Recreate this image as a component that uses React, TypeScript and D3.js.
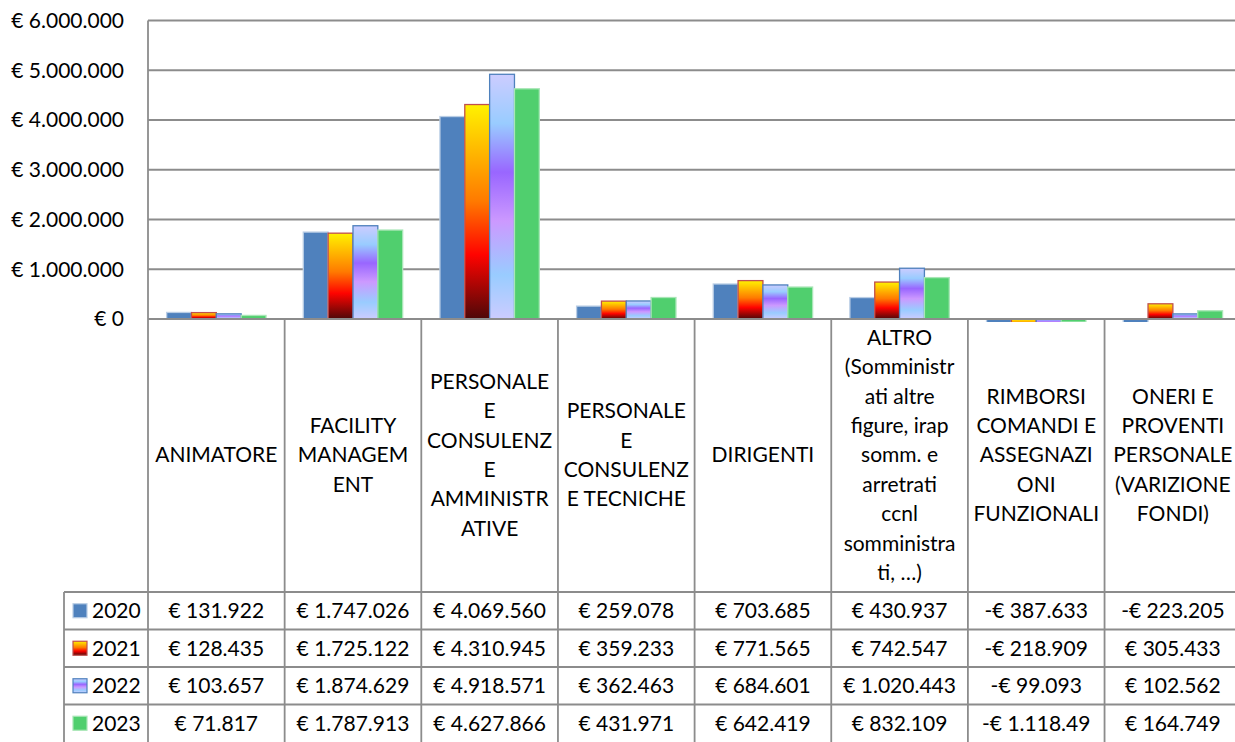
import React, { useEffect } from 'react';
import * as d3 from 'd3';

// Category labels, already broken into lines as in the data table header
const categories: string[][] = [
  ['ANIMATORE'],
  ['FACILITY', 'MANAGEM', 'ENT'],
  ['PERSONALE', 'E', 'CONSULENZ', 'E', 'AMMINISTR', 'ATIVE'],
  ['PERSONALE', 'E', 'CONSULENZ', 'E TECNICHE'],
  ['DIRIGENTI'],
  ['ALTRO', '(Somministr', 'ati altre', 'figure, irap', 'somm. e', 'arretrati', 'ccnl', 'somministra', 'ti,  …)'],
  ['RIMBORSI', 'COMANDI E', 'ASSEGNAZI', 'ONI', 'FUNZIONALI'],
  ['ONERI E', 'PROVENTI', 'PERSONALE', '(VARIZIONE', 'FONDI)'],
];

const years = ['2020', '2021', '2022', '2023'];

const values2020 = [131922, 1747026, 4069560, 259078, 703685, 430937, -387633, -223205];
const values2021 = [128435, 1725122, 4310945, 359233, 771565, 742547, -218909, 305433];
const values2022 = [103657, 1874629, 4918571, 362463, 684601, 1020443, -99093, 102562];
const values2023 = [71817, 1787913, 4627866, 431971, 642419, 832109, -1118.49, 164749];

const yTicks = [0, 1000000, 2000000, 3000000, 4000000, 5000000, 6000000];

const series = [values2020, values2021, values2022, values2023];

const FONT = 'Lato, "Open Sans", sans-serif';
const FS = 21;
const GRID = '#8c8c8c';

const W = 1235;
const H = 742;
const plotLeft = 148;
const colW = 136.65;
const plotTop = 20.5;
const zeroY = 319;
const tableTop = 592;
const rowH = 37.5;
const legendLeft = 64;

// "€ 1.234.567" style, with "." grouping
const fmt = (v: number) => {
  const sign = v < 0 ? '-' : '';
  const a = Math.abs(v);
  const whole = Math.floor(a);
  const frac = Math.round((a - whole) * 100);
  let s = whole.toString().replace(/\B(?=(\d{3})+(?!\d))/g, '.');
  if (frac > 0) s += '.' + String(frac).padStart(2, '0');
  return `${sign}€ ${s}`;
};

const fills = ['#4f81bd', 'url(#fire)', 'url(#lav)', '#50cf6e'];
const strokes = ['#b9cde5', '#c0504d', '#4f81bd', '#a8e6b6'];

export default function App() {
  useEffect(() => {
    document.body.style.margin = '0';
  }, []);

  const idx = categories.map((_, i) => String(i));
  const x = d3
    .scaleBand()
    .domain(idx)
    .range([plotLeft, plotLeft + colW * categories.length])
    .padding(0);
  const xs = d3.scaleBand().domain(years).range([0, x.bandwidth()]).paddingInner(0).paddingOuter(0.75);
  const y = d3.scaleLinear().domain([0, 6000000]).range([zeroY, plotTop]);

  const tableBottom = tableTop + rowH * years.length;
  const right = plotLeft + colW * categories.length;
  const headerMid = 455;
  const lineH = 29.4;

  return (
    <svg width={W} height={H} style={{ display: 'block', fontFamily: FONT }}>
      <defs>
        <linearGradient id="fire" x1="0" y1="0" x2="0" y2="1">
          <stop offset="0" stopColor="#fff200" />
          <stop offset="0.45" stopColor="#ff7a00" />
          <stop offset="0.7" stopColor="#ff0300" />
          <stop offset="1" stopColor="#4d0808" />
        </linearGradient>
        <linearGradient id="lav" x1="0" y1="0" x2="0" y2="1">
          <stop offset="0" stopColor="#ccccff" />
          <stop offset="0.2" stopColor="#99ccff" />
          <stop offset="0.4" stopColor="#9966ff" />
          <stop offset="0.6" stopColor="#cc99ff" />
          <stop offset="0.82" stopColor="#99ccff" />
          <stop offset="1" stopColor="#ccccff" />
        </linearGradient>
        {/* axis minimum is 0: bars below it only show as a small clipped stub */}
        <clipPath id="plotClip">
          <rect x={plotLeft} y={0} width={W} height={zeroY + 3} />
        </clipPath>
      </defs>
      <rect width={W} height={H} fill="#fff" />

      {/* gridlines + y labels */}
      {yTicks.map((t) => (
        <g key={t}>
          <line x1={plotLeft} x2={W} y1={y(t)} y2={y(t)} stroke={GRID} strokeWidth={1.8} />
          <text x={124} y={y(t)} dy="0.35em" textAnchor="end" fontSize={FS} fill="#000">
            {fmt(t)}
          </text>
        </g>
      ))}

      {/* bars */}
      <g clipPath="url(#plotClip)">
        {series.map((vals, si) =>
          vals.map((v, ci) => {
            const bx = (x(String(ci)) || 0) + (xs(years[si]) || 0);
            const top = v >= 0 ? y(v) : y(0);
            const h = v >= 0 ? y(0) - y(v) : Math.max(y(v) - y(0), 3);
            return (
              <rect
                key={`${si}-${ci}`}
                x={bx}
                y={top}
                width={xs.bandwidth()}
                height={h}
                fill={fills[si]}
                stroke={strokes[si]}
                strokeWidth={1.3}
              />
            );
          })
        )}
      </g>

      {/* axis lines */}
      <line x1={plotLeft} x2={plotLeft} y1={plotTop} y2={H} stroke={GRID} strokeWidth={1.8} />
      <line x1={plotLeft} x2={W} y1={zeroY} y2={zeroY} stroke={GRID} strokeWidth={1.8} />

      {/* table grid */}
      {idx.map((k) => (
        <line
          key={k}
          x1={(x(k) || 0) + colW}
          x2={(x(k) || 0) + colW}
          y1={zeroY}
          y2={tableBottom}
          stroke={GRID}
          strokeWidth={1.8}
        />
      ))}
      {years.map((_, r) => (
        <line
          key={r}
          x1={legendLeft}
          x2={right}
          y1={tableTop + r * rowH}
          y2={tableTop + r * rowH}
          stroke={GRID}
          strokeWidth={1.8}
        />
      ))}
      <line x1={legendLeft} x2={legendLeft} y1={tableTop} y2={tableBottom} stroke={GRID} strokeWidth={1.8} />

      {/* header labels */}
      {categories.map((lines, ci) => {
        const cx = (x(String(ci)) || 0) + colW / 2;
        return (
          <text key={ci} textAnchor="middle" fontSize={FS} fill="#000">
            {lines.map((ln, li) => (
              <tspan key={li} x={cx} y={headerMid + (li - (lines.length - 1) / 2) * lineH} dy="0.35em">
                {ln}
              </tspan>
            ))}
          </text>
        );
      })}

      {/* data rows with legend keys */}
      {series.map((vals, si) => {
        const cy = tableTop + si * rowH + rowH / 2;
        return (
          <g key={si}>
            <rect x={73} y={cy - 7} width={14} height={14} fill={fills[si]} stroke={strokes[si]} strokeWidth={1.2} />
            <text x={92} y={cy} dy="0.35em" fontSize={FS} fill="#000">
              {years[si]}
            </text>
            {vals.map((v, ci) => (
              <text
                key={ci}
                x={(x(String(ci)) || 0) + colW / 2}
                y={cy}
                dy="0.35em"
                textAnchor="middle"
                fontSize={FS}
                fill="#000"
              >
                {fmt(v)}
              </text>
            ))}
          </g>
        );
      })}
    </svg>
  );
}
